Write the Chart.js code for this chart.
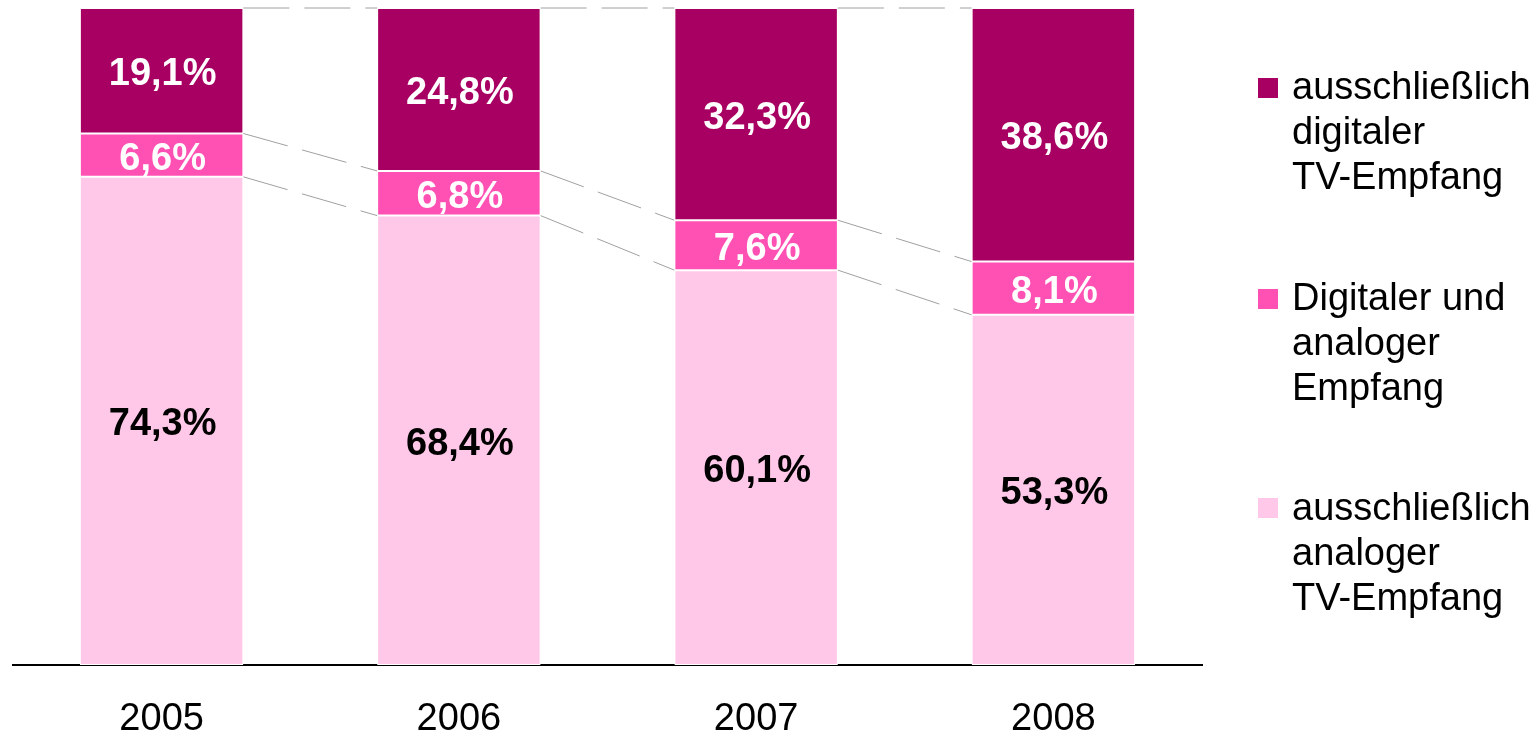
<!DOCTYPE html>
<html>
<head>
<meta charset="utf-8">
<script src="https://cdn.jsdelivr.net/npm/chart.js"></script>
<style>
  body { margin: 0; background: #fff; overflow: hidden; }
  #wrap { position: relative; width: 1535px; height: 739px; }
  .legend-text {
    position: absolute; left: 1292px;
    font-family: 'Liberation Sans', Arial, sans-serif;
    font-size: 38px; line-height: 45px; color: #000; white-space: nowrap;
  }
  .legend-box { position: absolute; left: 1258px; width: 20px; height: 20px; }
</style>
</head>
<body>
<div id="wrap">
  <canvas id="chart"></canvas>
  <div id="legend"></div>
</div>
<script>
const years = ['2005', '2006', '2007', '2008'];
// stacked bottom to top
const analogOnly = [74.3, 68.4, 60.1, 53.3];
const digitalAndAnalog = [6.6, 6.8, 7.6, 8.1];
const digitalOnly = [19.1, 24.8, 32.3, 38.6];

const seriesNames = [
  ['ausschließlich', 'analoger', 'TV-Empfang'],
  ['Digitaler und', 'analoger', 'Empfang'],
  ['ausschließlich', 'digitaler', 'TV-Empfang']
];
const seriesColors = ['#FFC8E8', '#FF50B4', '#A80062'];
const labelColors = ['#000000', '#ffffff', '#ffffff'];

// legend, top to bottom: digital only, both, analog only
const legendOrder = [2, 1, 0];
const legendTops = [64, 275, 485];
const legendBoxTops = [78, 289, 498];
const legend = document.getElementById('legend');
legendOrder.forEach(function (s, i) {
  const box = document.createElement('div');
  box.className = 'legend-box';
  box.style.top = legendBoxTops[i] + 'px';
  box.style.background = seriesColors[s];
  legend.appendChild(box);
  const txt = document.createElement('div');
  txt.className = 'legend-text';
  txt.style.top = legendTops[i] + 'px';
  txt.innerHTML = seriesNames[s].join('<br>');
  legend.appendChild(txt);
});

const fmt = v => v.toFixed(1).replace('.', ',') + '%';

// dashed lines linking the segment edges of neighbouring bars
const connectors = {
  id: 'connectors',
  beforeDatasetsDraw(chart) {
    const ctx = chart.ctx;
    ctx.save();
    ctx.strokeStyle = '#a0a0a0';
    ctx.lineWidth = 1;
    ctx.setLineDash([46, 15]);
    chart.data.datasets.forEach((ds, k) => {
      const bars = chart.getDatasetMeta(k).data;
      for (let i = 0; i < bars.length - 1; i++) {
        const a = bars[i], b = bars[i + 1];
        ctx.beginPath();
        ctx.moveTo(a.x + a.width / 2, a.y);
        ctx.lineTo(b.x - b.width / 2, b.y);
        ctx.stroke();
      }
    });
    ctx.restore();
  }
};

const valueLabels = {
  id: 'valueLabels',
  afterDatasetsDraw(chart) {
    const ctx = chart.ctx;
    ctx.save();
    ctx.font = 'bold 38px "Liberation Sans", Arial, sans-serif';
    ctx.textAlign = 'center';
    ctx.textBaseline = 'middle';
    chart.data.datasets.forEach((ds, k) => {
      ctx.fillStyle = labelColors[k];
      chart.getDatasetMeta(k).data.forEach((bar, i) => {
        ctx.fillText(fmt(ds.data[i]), bar.x + 1, (bar.y + bar.base) / 2 + 4);
      });
    });
    ctx.restore();
  }
};

const seriesData = [analogOnly, digitalAndAnalog, digitalOnly];

new Chart(document.getElementById('chart'), {
  type: 'bar',
  data: {
    labels: years,
    datasets: seriesData.map((d, k) => ({
      label: seriesNames[k].join(' '),
      data: d,
      backgroundColor: seriesColors[k],
      borderColor: '#ffffff',
      borderWidth: 1,
      borderSkipped: false,
      categoryPercentage: 1,
      barPercentage: 0.55
    }))
  },
  options: {
    responsive: true,
    maintainAspectRatio: false,
    animation: false,
    layout: { padding: { top: 8, left: 13, right: 333, bottom: 0 } },
    plugins: { legend: { display: false }, tooltip: { enabled: false } },
    scales: {
      x: {
        stacked: true,
        grid: { display: false, drawTicks: false },
        border: { display: true, color: '#000', width: 2 },
        ticks: {
          color: '#000',
          padding: 32,
          font: { family: '"Liberation Sans", Arial, sans-serif', size: 38 }
        },
        afterFit(scale) { scale.height = 74; }
      },
      y: { stacked: true, min: 0, max: 100, display: false }
    }
  },
  plugins: [connectors, valueLabels]
});
</script>
</body>
</html>
